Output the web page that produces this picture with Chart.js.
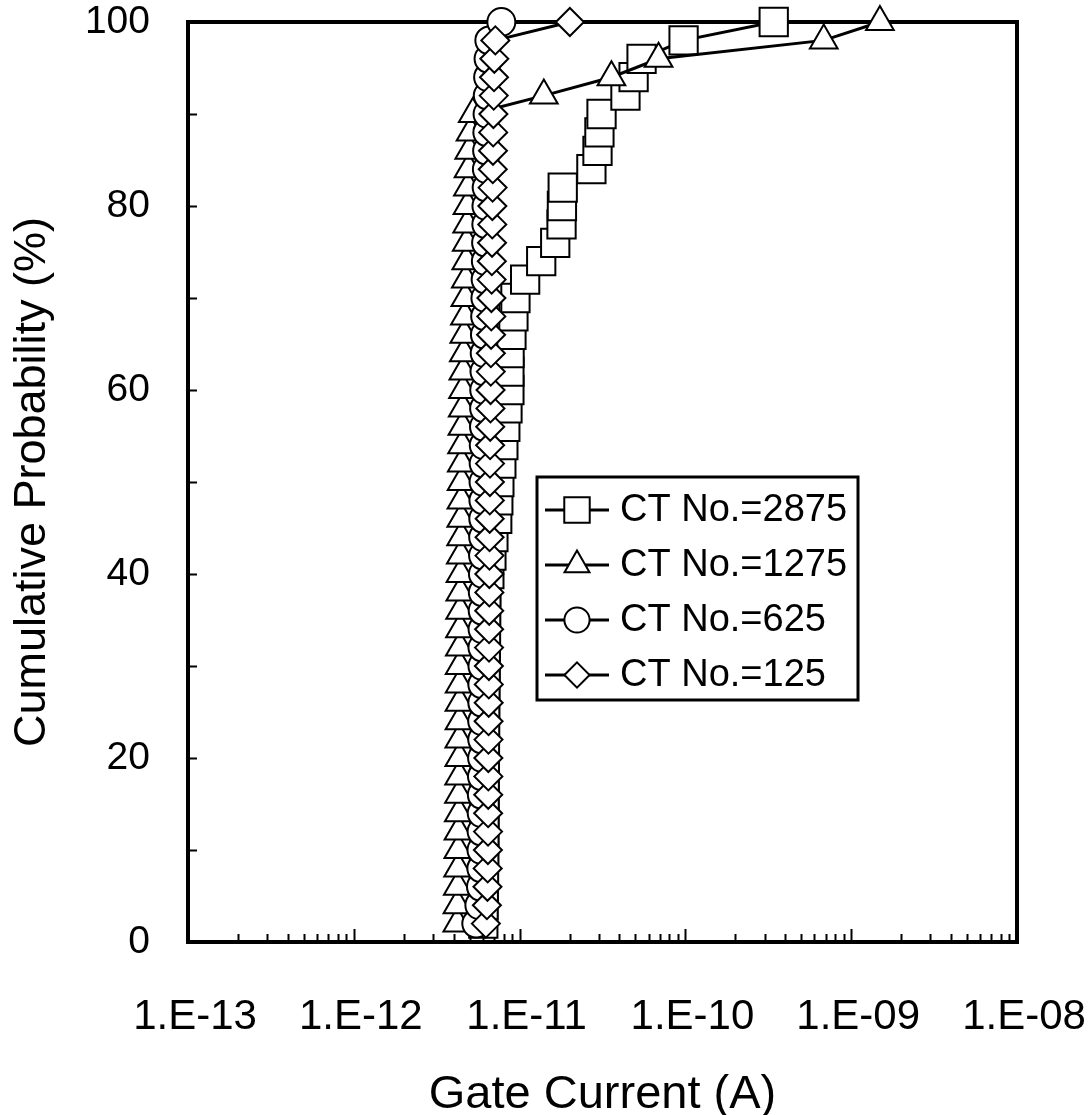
<!DOCTYPE html>
<html>
<head>
<meta charset="utf-8">
<script src="https://cdn.jsdelivr.net/npm/chart.js@4.4.1/dist/chart.umd.min.js"></script>
<style>
  html, body { margin: 0; padding: 0; background: #fff; }
</style>
</head>
<body>
<canvas id="c" width="1089" height="1115"></canvas>
<script>
// cumulative probability (%) of each point
const probability = [2, 4, 6, 8, 10, 12, 14, 16, 18, 20, 22, 24, 26, 28, 30, 32, 34, 36, 38, 40,
  42, 44, 46, 48, 50, 52, 54, 56, 58, 60, 62, 64, 66, 68, 70, 72, 74, 76, 78, 80,
  82, 84, 86, 88, 90, 92, 94, 96, 98, 100];

// gate current (A)
const ct2875 = [6.04e-12, 6.06e-12, 6.08e-12, 6.10e-12, 6.12e-12, 6.13e-12, 6.14e-12, 6.15e-12, 6.16e-12, 6.17e-12,
  6.18e-12, 6.19e-12, 6.20e-12, 6.22e-12, 6.24e-12, 6.25e-12, 6.27e-12, 6.28e-12, 6.30e-12, 6.57e-12,
  6.76e-12, 6.95e-12, 7.33e-12, 7.44e-12, 7.55e-12, 7.76e-12, 7.98e-12, 8.20e-12, 8.45e-12, 8.68e-12,
  8.68e-12, 8.70e-12, 8.93e-12, 9.18e-12, 9.44e-12, 1.08e-11, 1.35e-11, 1.64e-11, 1.79e-11, 1.80e-11,
  1.82e-11, 2.71e-11, 2.95e-11, 3.03e-11, 3.12e-11, 4.35e-11, 4.87e-11, 5.44e-11, 9.75e-11, 3.41e-10];

const ct1275 = [4.21e-12, 4.22e-12, 4.24e-12, 4.26e-12, 4.27e-12, 4.28e-12, 4.30e-12, 4.31e-12, 4.32e-12, 4.33e-12,
  4.33e-12, 4.34e-12, 4.34e-12, 4.35e-12, 4.35e-12, 4.36e-12, 4.37e-12, 4.38e-12, 4.39e-12, 4.40e-12,
  4.42e-12, 4.44e-12, 4.45e-12, 4.46e-12, 4.47e-12, 4.48e-12, 4.50e-12, 4.52e-12, 4.54e-12, 4.56e-12,
  4.58e-12, 4.61e-12, 4.64e-12, 4.68e-12, 4.71e-12, 4.74e-12, 4.77e-12, 4.80e-12, 4.83e-12, 4.85e-12,
  4.88e-12, 4.92e-12, 4.97e-12, 5.06e-12, 5.22e-12, 1.40e-11, 3.58e-11, 6.89e-11, 6.83e-10, 1.49e-9];

const ct625 = [5.48e-12, 5.72e-12, 5.85e-12, 5.88e-12, 5.89e-12, 5.90e-12, 5.91e-12, 5.92e-12, 5.93e-12, 5.94e-12,
  5.95e-12, 5.95e-12, 5.96e-12, 5.96e-12, 5.97e-12, 5.97e-12, 5.98e-12, 5.99e-12, 6.00e-12, 6.01e-12,
  6.02e-12, 6.03e-12, 6.04e-12, 6.05e-12, 6.06e-12, 6.07e-12, 6.08e-12, 6.10e-12, 6.11e-12, 6.12e-12,
  6.14e-12, 6.16e-12, 6.18e-12, 6.20e-12, 6.22e-12, 6.24e-12, 6.26e-12, 6.28e-12, 6.30e-12, 6.31e-12,
  6.33e-12, 6.35e-12, 6.37e-12, 6.39e-12, 6.41e-12, 6.43e-12, 6.46e-12, 6.50e-12, 6.57e-12, 7.76e-12];

const ct125 = [6.26e-12, 6.35e-12, 6.40e-12, 6.42e-12, 6.44e-12, 6.45e-12, 6.46e-12, 6.47e-12, 6.48e-12, 6.48e-12,
  6.49e-12, 6.50e-12, 6.51e-12, 6.52e-12, 6.53e-12, 6.54e-12, 6.55e-12, 6.56e-12, 6.57e-12, 6.57e-12,
  6.58e-12, 6.59e-12, 6.60e-12, 6.61e-12, 6.62e-12, 6.63e-12, 6.64e-12, 6.65e-12, 6.67e-12, 6.68e-12,
  6.70e-12, 6.71e-12, 6.73e-12, 6.75e-12, 6.76e-12, 6.78e-12, 6.80e-12, 6.82e-12, 6.84e-12, 6.85e-12,
  6.87e-12, 6.89e-12, 6.91e-12, 6.93e-12, 6.95e-12, 6.98e-12, 7.01e-12, 7.04e-12, 7.14e-12, 2.01e-11];

const seriesLabels = ["CT No.=2875", "CT No.=1275", "CT No.=625", "CT No.=125"];
const xTickValues = [1e-13, 1e-12, 1e-11, 1e-10, 1e-9, 1e-8];
const xTickLabels = ["1.E-13", "1.E-12", "1.E-11", "1.E-10", "1.E-09", "1.E-08"];
const yTickValues = [0, 20, 40, 60, 80, 100];

const FONT = "'Liberation Sans', Arial, sans-serif";

const toPoints = (xs) => xs.map((v, i) => ({ x: v, y: probability[i] }));

function makeSet(label, values, style, radius, order) {
    return {
        label: label,
        data: toPoints(values),
        showLine: true,
        borderColor: "#000",
        borderWidth: 3,
        backgroundColor: "#fff",
        pointStyle: style,
        pointRadius: radius,
        pointHoverRadius: radius,
        pointBorderWidth: 2,
        pointBorderColor: "#000",
        pointBackgroundColor: "#fff",
        clip: false,
        order: order // diamonds end up on top, like the original
    };
}

// no extra room for edge labels, the plot box is fixed
function noEdgePadding(scale) {
    scale.paddingLeft = 0;
    scale.paddingRight = 0;
    scale.paddingTop = 0;
    scale.paddingBottom = 0;
}

// box, inward tick marks (log minor ticks on x)
const frameTicks = {
    id: "frameTicks",
    beforeDatasetsDraw(chart) {
        const { ctx, chartArea: a, scales: { x, y } } = chart;
        ctx.save();
        ctx.strokeStyle = "#000";
        ctx.lineWidth = 2;
        ctx.beginPath();
        for (let e = -13; e < -8; e++) {
            for (let m = 2; m <= 9; m++) {
                const px = Math.round(x.getPixelForValue(m * Math.pow(10, e))) + 0.5;
                ctx.moveTo(px, a.bottom);
                ctx.lineTo(px, a.bottom - 8);
            }
        }
        xTickValues.forEach(v => {
            const px = Math.round(x.getPixelForValue(v)) + 0.5;
            ctx.moveTo(px, a.bottom);
            ctx.lineTo(px, a.bottom - 13);
        });
        for (let v = 10; v < 100; v += 10) {
            const py = Math.round(y.getPixelForValue(v)) + 0.5;
            ctx.moveTo(a.left, py);
            ctx.lineTo(a.left + 9, py);
        }
        ctx.stroke();
        ctx.lineWidth = 4;
        ctx.strokeRect(a.left, a.top, a.right - a.left, a.bottom - a.top);
        ctx.restore();
    }
};

// boxed legend inside the plot, line + marker samples
const boxLegend = {
    id: "boxLegend",
    afterDatasetsDraw(chart) {
        const { ctx, chartArea: a } = chart;
        const left = a.left + 349, top = a.top + 455, w = 321, h = 223;
        ctx.save();
        ctx.fillStyle = "#fff";
        ctx.fillRect(left, top, w, h);
        ctx.strokeStyle = "#000";
        ctx.lineWidth = 3;
        ctx.strokeRect(left, top, w, h);
        ctx.font = "38px " + FONT;
        ctx.textBaseline = "middle";
        chart.data.datasets.forEach((ds, i) => {
            const cy = top + 33 + i * 55;
            ctx.strokeStyle = "#000";
            ctx.lineWidth = 3;
            ctx.beginPath();
            ctx.moveTo(left + 8, cy);
            ctx.lineTo(left + 72, cy);
            ctx.stroke();
            ctx.lineWidth = 2;
            ctx.fillStyle = "#fff";
            Chart.helpers.drawPoint(ctx, {
                pointStyle: ds.pointStyle,
                radius: ds.pointRadius * 0.9,
                rotation: 0,
                borderWidth: 2
            }, left + 40, cy);
            ctx.fillStyle = "#000";
            ctx.fillText(ds.label, left + 83, cy + 1);
        });
        ctx.restore();
    }
};

new Chart(document.getElementById("c"), {
    type: "scatter",
    data: {
        datasets: [
            makeSet(seriesLabels[0], ct2875, "rect", 20, 3),
            makeSet(seriesLabels[1], ct1275, "triangle", 16, 2),
            makeSet(seriesLabels[2], ct625, "circle", 14, 1),
            makeSet(seriesLabels[3], ct125, "rectRot", 14, 0)
        ]
    },
    options: {
        responsive: false,
        animation: false,
        layout: { padding: { top: 22, right: 72, left: 0, bottom: 0 } },
        plugins: {
            legend: { display: false },
            tooltip: { enabled: false }
        },
        scales: {
            x: {
                type: "logarithmic",
                min: 1e-13,
                max: 1e-8,
                grid: { display: false, drawTicks: false },
                border: { display: false },
                afterBuildTicks: (scale) => {
                    scale.ticks = xTickValues.map(v => ({ value: v }));
                },
                afterFit: (scale) => { scale.height = 173; noEdgePadding(scale); },
                ticks: {
                    autoSkip: false,
                    maxRotation: 0,
                    padding: 50,
                    labelOffset: 7,
                    color: "#000",
                    font: { family: FONT, size: 42 },
                    callback: (v, i) => xTickLabels[i]
                },
                title: {
                    display: true,
                    text: "Gate Current (A)",
                    color: "#000",
                    font: { family: FONT, size: 47, lineHeight: 0.85 },
                    padding: { top: 0, bottom: 0 }
                }
            },
            y: {
                min: 0,
                max: 100,
                grid: { display: false, drawTicks: false },
                border: { display: false },
                afterBuildTicks: (scale) => {
                    scale.ticks = yTickValues.map(v => ({ value: v }));
                },
                afterFit: (scale) => { scale.width = 188; noEdgePadding(scale); },
                ticks: {
                    padding: 38,
                    color: "#000",
                    font: { family: FONT, size: 39 }
                },
                title: {
                    display: true,
                    text: "Cumulative Probability (%)",
                    color: "#000",
                    font: { family: FONT, size: 45, lineHeight: 1 },
                    padding: { top: 10, bottom: 0 }
                }
            }
        }
    },
    plugins: [frameTicks, boxLegend]
});
</script>
</body>
</html>
